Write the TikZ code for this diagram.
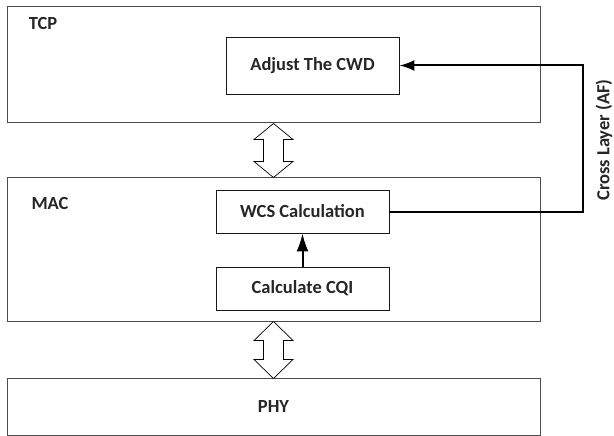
\documentclass[tikz,border=0pt]{standalone}
\usepackage{fontspec}
\setmainfont{Carlito}
\usepackage{tikz}
\usetikzlibrary{arrows.meta,calc}

% hollow two-way arrow between two layers: shaft length, head length
\newcommand{\updown}[3]{%
\draw[updown] (#1.south) -- ++(19.5,#3) -- ++(-9.5,0) -- ++(0,#2) -- ++(9.5,0)
        -- ++(-19.5,#3) -- ++(-19.5,-#3) -- ++(9.5,0) -- ++(0,-#2) -- ++(-9.5,0) -- cycle;}

\begin{document}
\begin{tikzpicture}[x=1pt,y=-1pt]%[show background grid]
\useasboundingbox (0,0) rectangle (614,436);

\tikzstyle{every node} = [font=\fontsize{18.5}{22}\selectfont\bfseries, text=black!85]
\tikzstyle{layer} = [rectangle, draw=black!70, line width=1pt, inner sep=0pt, minimum width=533pt]
\tikzstyle{func} = [rectangle, draw=black!90, line width=0.9pt, inner sep=0pt, minimum width=173pt]
\tikzstyle{updown} = [draw=black, fill=white, line width=0.7pt]
\tikzstyle{feed} = [draw=black, line width=2pt]

\begin{scope}
\path (273.5,65) node[layer,minimum height=116pt] (tcp) {};
\path (273.5,249) node[layer,minimum height=144pt] (mac) {};
\path (273.5,406.5) node[layer,minimum height=57pt] (phy) {PHY};
\end{scope}
\path (43,23) node (tcpname) {TCP};
\path (50,203) node (macname) {MAC};

\begin{scope}
\path (312.5,65.5) node[func,minimum height=57pt] (cwd) {Adjust The CWD};
\path (302.5,211.5) node[func,minimum height=43pt] (wcs) {WCS Calculation};
\path (302.5,288.5) node[func,minimum height=43pt] (cqi) {Calculate CQI};
\end{scope}

\updown{tcp}{22}{16}
\updown{mac}{19}{19}

\draw[feed,-{Latex[length=18pt,width=12pt]}] (cqi) -- (wcs);

% cross layer feedback
\coordinate (bend) at (583,0);
\draw[feed,-{Latex[length=15pt,width=11pt]}] (wcs.east) -- (wcs.east -| bend)
        -- (cwd.east -| bend) -- (cwd.east);
\path (604,140) node[rotate=90] (cross) {Cross Layer (AF)};
%\draw[thick,dashed] (bend) -- (583,436);

\end{tikzpicture}
\end{document}
